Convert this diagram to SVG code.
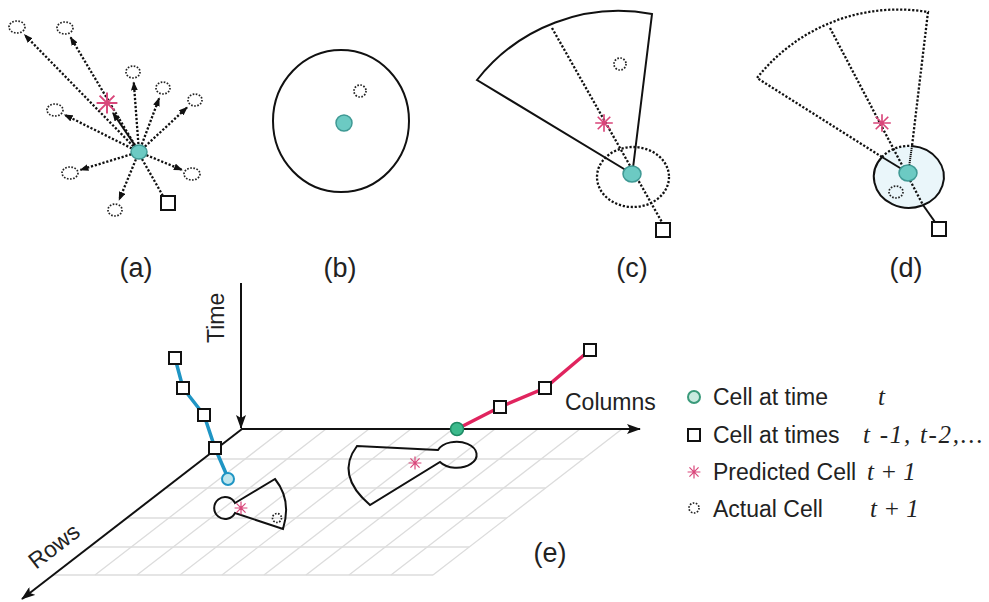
<svg xmlns="http://www.w3.org/2000/svg" width="989" height="602" viewBox="0 0 989 602">
<style>
.dot{fill:none;stroke:#111;stroke-width:2.3;stroke-dasharray:2.2 1.8}
.sol{fill:none;stroke:#111;stroke-width:2}
.act{fill:none;stroke:#222;stroke-width:1.7;stroke-dasharray:1.6 1.5}
.cell{fill:#6ccac3;stroke:#3f9994;stroke-width:1.5}
.sq{fill:#fff;stroke:#111;stroke-width:2}
.star{fill:none;stroke:#d9467a;stroke-width:1.5}
.grid{stroke:#dcdcdc;stroke-width:1.3;fill:none}
.lbl{font-family:"Liberation Sans",Arial,sans-serif;font-size:27px;fill:#222}
.leg{font-family:"Liberation Sans",Arial,sans-serif;font-size:23px;fill:#222}
.it{font-family:"Liberation Serif","Times New Roman",serif;font-style:italic;font-size:25px;fill:#222}
</style>
<defs>
<marker id="ah" viewBox="0 0 8 6" refX="7" refY="3" markerWidth="9" markerHeight="7" markerUnits="userSpaceOnUse" orient="auto"><path d="M0,0 L8,3 L0,6 z" fill="#111"/></marker>
<marker id="ax" viewBox="0 0 14 10" refX="13" refY="5" markerWidth="14" markerHeight="10" markerUnits="userSpaceOnUse" orient="auto"><path d="M0,0 L14,5 L0,10 L3,5 z" fill="#111"/></marker>
<path id="star" d="M-8,0H8M0,-8V8M-5.7,-5.7L5.7,5.7M-5.7,5.7L5.7,-5.7"/>
</defs>
<rect width="989" height="602" fill="#fff"/>

<!-- panel a -->
<g id="panel-a">
  <g id="a-connectors">
    <line class="dot" x1="133.4" y1="146.3" x2="24.7" y2="34.9" marker-end="url(#ah)"/>
    <line class="dot" x1="134.9" y1="145.1" x2="70.6" y2="37.4" marker-end="url(#ah)"/>
    <line class="dot" x1="138.4" y1="144" x2="133.8" y2="82.5" marker-end="url(#ah)"/>
    <line class="dot" x1="141.8" y1="144.5" x2="159.1" y2="98.3" marker-end="url(#ah)"/>
    <line class="dot" x1="144.9" y1="146.6" x2="187" y2="107.5" marker-end="url(#ah)"/>
    <line class="dot" x1="131.8" y1="148.4" x2="64.8" y2="114.9" marker-end="url(#ah)"/>
    <line class="dot" x1="131.3" y1="154.3" x2="80.5" y2="169.8" marker-end="url(#ah)"/>
    <line class="dot" x1="146.4" y1="155.1" x2="181.8" y2="169.8" marker-end="url(#ah)"/>
    <line class="dot" x1="135.9" y1="159.4" x2="119.2" y2="199.8" marker-end="url(#ah)"/>
    <line class="dot" x1="142" y1="159" x2="163" y2="196"/>
    <line class="sol" x1="136" y1="147" x2="113" y2="113" stroke-width="2.5" marker-end="url(#ah)"/>
  </g>
  <g id="a-actual">
    <ellipse class="act" cx="17" cy="27" rx="8" ry="6"/>
    <ellipse class="act" cx="65" cy="28" rx="8" ry="6"/>
    <ellipse class="act" cx="133" cy="72" rx="7" ry="6"/>
    <ellipse class="act" cx="163" cy="88" rx="7" ry="6"/>
    <ellipse class="act" cx="195" cy="100" rx="7" ry="6"/>
    <ellipse class="act" cx="55" cy="110" rx="8" ry="6"/>
    <ellipse class="act" cx="70" cy="173" rx="8" ry="6"/>
    <ellipse class="act" cx="192" cy="174" rx="8" ry="6"/>
    <ellipse class="act" cx="115" cy="210" rx="7" ry="6"/>
  </g>
  <use href="#star" class="star" stroke="#e98aa8" transform="translate(107,103) scale(1.3)"/>
  <ellipse class="cell" cx="139" cy="152" rx="8" ry="7"/>
  <rect class="sq" x="161" y="196" width="14" height="14"/>
  <text class="lbl" x="136" y="277" text-anchor="middle">(a)</text>
</g>

<!-- panel b -->
<g id="panel-b">
  <ellipse class="sol" cx="341" cy="121" rx="68" ry="71"/>
  <ellipse class="act" cx="360" cy="91" rx="6" ry="6"/>
  <circle class="cell" cx="344" cy="123" r="8"/>
  <text class="lbl" x="340" y="277" text-anchor="middle">(b)</text>
</g>

<!-- panel c -->
<g id="panel-c">
  <ellipse class="dot" cx="633" cy="177" rx="36" ry="30" fill="#fbf6f9"/>
  <path class="sol" d="M629,172 L477,80 A180,180 0 0 1 652,14 L633,168"/>
  <line class="dot" x1="552" y1="28" x2="663" y2="224"/>
  <use href="#star" class="star" transform="translate(604,123) scale(1.1)"/>
  <ellipse class="act" cx="620" cy="64" rx="6" ry="6"/>
  <ellipse class="cell" cx="632" cy="174" rx="9" ry="8"/>
  <rect class="sq" x="656" y="223" width="14" height="14"/>
  <text class="lbl" x="632" y="277" text-anchor="middle">(c)</text>
</g>

<!-- panel d -->
<g id="panel-d">
  <ellipse cx="910" cy="177" rx="35" ry="31" fill="#eaf6fa"/>
  <path class="dot" d="M882,157 L757,78 A180,180 0 0 1 928,12 L912,146"/>
  <path class="sol" d="M912,146 A35,31 0 1 1 882,157"/>
  <path class="dot" d="M882,157 A35,31 0 0 1 912,146"/>
  <line class="sol" x1="882" y1="157" x2="905" y2="171"/>
  <line class="sol" x1="912" y1="146" x2="909" y2="167" stroke-dasharray="1.2 0.8"/>
  <line class="dot" x1="830" y1="28" x2="923" y2="205"/>
  <line class="sol" x1="923" y1="205" x2="935" y2="222"/>
  <use href="#star" class="star" transform="translate(882,123) scale(1.1)"/>
  <ellipse class="act" cx="896" cy="192" rx="7" ry="6"/>
  <ellipse class="cell" cx="908" cy="173" rx="9" ry="8"/>
  <rect class="sq" x="932" y="222" width="14" height="14"/>
  <text class="lbl" x="906" y="277" text-anchor="middle">(d)</text>
</g>

<!-- panel e -->
<g id="panel-e">
  <g id="grid" class="grid">
    <line x1="203.2" y1="459" x2="583.2" y2="459"/>
    <line x1="165.7" y1="488" x2="545.7" y2="488"/>
    <line x1="126.8" y1="518" x2="506.8" y2="518"/>
    <line x1="89.3" y1="547" x2="469.3" y2="547"/>
    <line x1="53.1" y1="575" x2="433.1" y2="575"/>
    <line x1="284" y1="429" x2="95" y2="575"/>
    <line x1="326" y1="429" x2="137" y2="575"/>
    <line x1="369" y1="429" x2="180" y2="575"/>
    <line x1="411" y1="429" x2="222" y2="575"/>
    <line x1="453" y1="429" x2="264" y2="575"/>
    <line x1="495" y1="429" x2="306" y2="575"/>
    <line x1="538" y1="429" x2="349" y2="575"/>
    <line x1="580" y1="429" x2="391" y2="575"/>
    <line x1="622" y1="429" x2="433" y2="575"/>
  </g>
  <g id="axes">
    <line class="sol" x1="241" y1="283" x2="241" y2="428" marker-end="url(#ax)"/>
    <line class="sol" x1="241" y1="429" x2="640" y2="429" marker-end="url(#ax)"/>
    <line class="sol" x1="242" y1="429" x2="22" y2="599" marker-end="url(#ax)"/>
    <text class="leg" font-size="24" transform="translate(224,343) rotate(-90)">Time</text>
    <text class="leg" x="565" y="410">Columns</text>
    <text class="leg" font-size="25" transform="translate(36,570) rotate(-37.7)">Rows</text>
  </g>
  <g id="chain-blue">
    <polyline points="175,358 183,388 204,415 215,448 228,478" fill="none" stroke="#1f95c4" stroke-width="3.5"/>
    <rect class="sq" x="169" y="352" width="12" height="12"/>
    <rect class="sq" x="177" y="382" width="12" height="12"/>
    <rect class="sq" x="198" y="409" width="12" height="12"/>
    <rect class="sq" x="209" y="442" width="12" height="12"/>
    <circle cx="228" cy="479" r="6" fill="#bfe6ee" stroke="#1f95c4" stroke-width="2"/>
  </g>
  <g id="chain-red">
    <polyline points="457,429 500,407 545,388 590,350" fill="none" stroke="#e0245e" stroke-width="3.5"/>
    <rect class="sq" x="494" y="401" width="12" height="12"/>
    <rect class="sq" x="539" y="382" width="12" height="12"/>
    <rect class="sq" x="584" y="344" width="12" height="12"/>
    <circle cx="457" cy="429" r="6.5" fill="#3cba8c" stroke="#1d8a64" stroke-width="1.5"/>
  </g>
  <g id="region-small">
    <path class="sol" stroke-width="1.8" d="M235,503 L275,479 Q292,500 283,529 L235,513 A11,11 0 1 1 235,503 Z"/>
    <use href="#star" class="star" transform="translate(241,508) scale(0.8)"/>
    <ellipse class="act" cx="277" cy="518" rx="4.5" ry="4.5" stroke-width="1.3"/>
  </g>
  <g id="region-big">
    <path class="sol" stroke-width="1.8" d="M438,450 L357,446 Q335,475 370,505 L440,462 A20,13 0 1 0 438,450 Z"/>
    <use href="#star" class="star" transform="translate(415,463) scale(0.8)"/>
  </g>
  <text class="lbl" x="550" y="562" text-anchor="middle">(e)</text>
</g>

<!-- legend -->
<g id="legend">
  <circle cx="694" cy="397" r="6" fill="#c9ebe0" stroke="#3a9a7a" stroke-width="2"/>
  <rect class="sq" x="688" y="429" width="12" height="12"/>
  <use href="#star" class="star" transform="translate(694,472) scale(0.8)"/>
  <circle class="act" cx="694" cy="508" r="5" stroke-width="1.4"/>
  <text class="leg" x="713" y="405">Cell at time</text>
  <text class="leg" x="713" y="443">Cell at times</text>
  <text class="leg" x="713" y="480">Predicted Cell</text>
  <text class="leg" x="713" y="517">Actual Cell</text>
  <text class="it" x="878" y="405">t</text>
  <text class="it" x="863" y="443" textLength="120" lengthAdjust="spacing">t -1, t-2,...</text>
  <text class="it" x="867" y="480">t + 1</text>
  <text class="it" x="870" y="517">t + 1</text>
</g>
</svg>
